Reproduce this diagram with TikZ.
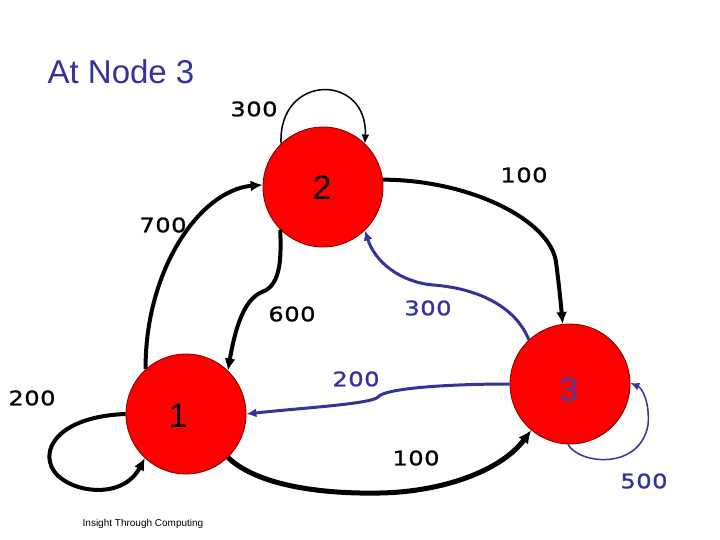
\documentclass[tikz,border=0pt]{standalone}
\usepackage{fontspec}
\setmainfont{Liberation Sans}
\newfontfamily\numfont[FakeStretch=1.2,FakeBold=1.2,LetterSpace=3]{DejaVu Sans}
\usetikzlibrary{arrows.meta}
\definecolor{myblue}{RGB}{51,51,153}
\definecolor{mynodeblue}{RGB}{75,60,160}
\definecolor{myred}{RGB}{255,0,0}
\definecolor{mydarkred}{RGB}{120,0,0}
\tikzset{
  statenode/.style={circle, fill=myred, draw=mydarkred, line width=0.8pt, minimum size=120pt, inner sep=0pt},
  statelabel/.style={font=\fontsize{34}{34}\selectfont, inner sep=0pt},
  weight/.style={font=\numfont\fontsize{20}{20}\selectfont, inner sep=0pt},
  thinedge/.style={line width=1.5pt, -{Latex[length=9pt,width=8pt]}},
  thickedge/.style={line width=4pt, -{Latex[length=12pt,width=11pt]}},
  blueedge/.style={line width=3pt, draw=myblue, -{Latex[length=10pt,width=9pt]}},
}
\begin{document}
\begin{tikzpicture}[x=1pt,y=-1pt]
\useasboundingbox[fill=white] (0,0) rectangle (720,540);
\node[statenode] (n2) at (323,187) {};
\node[statenode] (n1) at (186,414) {};
\node[statenode] (n3) at (570,384) {};
\node[statelabel] (l2) at (322,188) {2};
\node[statelabel] (l1) at (178,416) {1};
\node[statelabel, text=mynodeblue] (l3) at (569,390) {3};

\node[font=\fontsize{33}{33}\selectfont, text=myblue, inner sep=0pt] (title) at (121,72) {At Node 3};
\node[font=\fontsize{10}{10}\selectfont, inner sep=0pt] (foot) at (143,524) {Insight Through Computing};

\node[weight] (w22) at (254,109) {300};
\node[weight] (w23) at (524,175) {100};
\node[weight] (w12) at (163,225) {700};
\node[weight] (w21) at (292,314) {600};
\node[weight, text=myblue] (w32) at (428,308) {300};
\node[weight] (w11) at (32,398) {200};
\node[weight, text=myblue] (w31) at (356,379) {200};
\node[weight] (w13) at (416,458) {100};
\node[weight, text=myblue] (w33) at (644,481) {500};

% self loop at 2
\draw[thinedge] (n2.134) .. controls (278,73) and (368,73) .. (n2.46);
% 2 -> 3
\draw[thickedge] (n2.7) .. controls (470,180) and (550,220) .. (556,262) .. controls (559,285) and (561,305) .. (n3.97);
% 3 -> 2
\draw[blueedge] (n3.133) .. controls (515,305) and (475,288) .. (433,285) .. controls (400,282) and (375,262) .. (n2.-46);
% 2 -> 1
\draw[thickedge] (n2.-135) .. controls (281,255) and (282,285) .. (262,292) .. controls (242,300) and (234,335) .. (n1.46);
% 1 -> 2
\draw[thickedge] (n1.132) .. controls (145,270) and (200,190) .. (n2.178);
% self loop at 1
\draw[thickedge] (n1.180) .. controls (70,416) and (45,440) .. (50,462) .. controls (55,490) and (120,505) .. (n1.-133);
% 1 -> 3
\draw[line width=5pt, -{Latex[length=13pt,width=12pt]}] (n1.-46) .. controls (260,488) and (330,494) .. (380,493) .. controls (440,492) and (500,472) .. (n3.-130);
% 3 -> 1
\draw[blueedge] (n3.180) .. controls (450,384) and (385,388) .. (378,397) .. controls (372,404) and (300,408) .. (n1.0);
% self loop at 3
\draw[thinedge, draw=myblue] (n3.-92) .. controls (580,465) and (640,470) .. (648,425) .. controls (650,402) and (642,388) .. (n3.1);
\end{tikzpicture}
\end{document}
